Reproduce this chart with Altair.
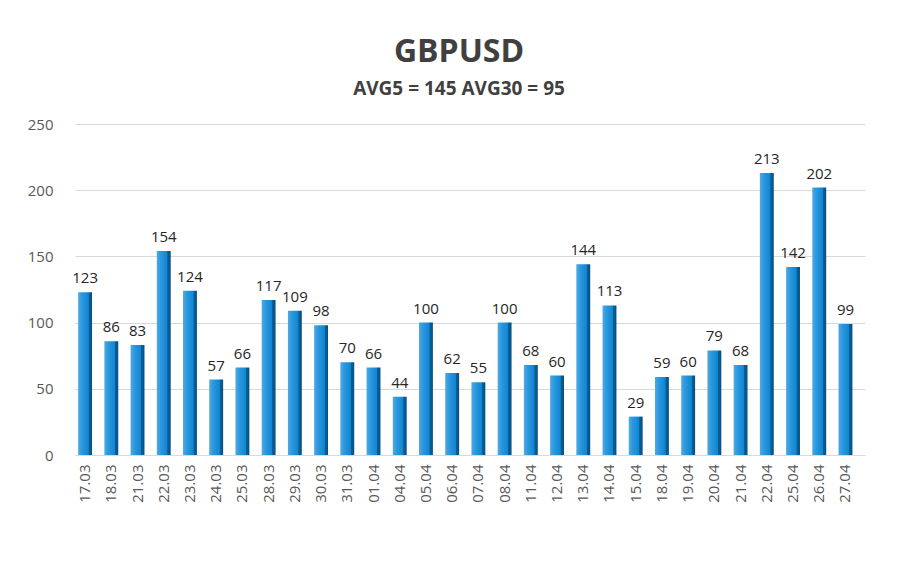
import altair as alt
import pandas as pd

dates = ["17.03", "18.03", "21.03", "22.03", "23.03", "24.03", "25.03", "28.03", "29.03", "30.03",
         "31.03", "01.04", "04.04", "05.04", "06.04", "07.04", "08.04", "11.04", "12.04", "13.04",
         "14.04", "15.04", "18.04", "19.04", "20.04", "21.04", "22.04", "25.04", "26.04", "27.04"]
values = [123, 86, 83, 154, 124, 57, 66, 117, 109, 98,
          70, 66, 44, 100, 62, 55, 100, 68, 60, 144,
          113, 29, 59, 60, 79, 68, 213, 142, 202, 99]
y_ticks = [0, 50, 100, 150, 200, 250]

df = pd.DataFrame({"date": dates, "value": values})

FONT = "Open Sans"

x = alt.X("date:N", sort=dates, title=None,
          scale=alt.Scale(paddingInner=0.47, paddingOuter=0.3, align=0.2),
          axis=alt.Axis(labelAngle=270, labelFontSize=15, labelColor="#595959", labelFont=FONT,
                        labelPadding=9, ticks=False, domain=False, grid=False,
                        labelBaseline="middle", labelAlign="right"))
y = alt.Y("value:Q", title=None,
          scale=alt.Scale(domain=[0, 250], nice=False),
          axis=alt.Axis(values=y_ticks, labelFontSize=15, labelColor="#595959", labelFont=FONT,
                        labelPadding=22, ticks=False, domain=False, gridColor="#d9d9d9",
                        gridWidth=1.2))

grad = alt.Gradient(
    gradient="linear", x1=0, x2=1, y1=0, y2=0,
    stops=[alt.GradientStop(color="#4eaae6", offset=0),
           alt.GradientStop(color="#2a97de", offset=0.3),
           alt.GradientStop(color="#0f86d2", offset=0.74),
           alt.GradientStop(color="#0a5f98", offset=0.78),
           alt.GradientStop(color="#084f80", offset=1)])

bars = alt.Chart(df).mark_bar(color=grad, width={"band": 1}).encode(x=x, y=y)

labels = alt.Chart(df).mark_text(dy=-14, fontSize=15, font=FONT, color="#262626").encode(
    x=alt.X("date:N", sort=dates), y="value:Q", text="value:Q")

chart = (bars + labels).properties(
    width=790, height=331,
    autosize=alt.AutoSizeParams(type="none"),
    padding={"left": 67, "top": 116, "right": 27, "bottom": 99},
    title=alt.TitleParams(
        text="GBPUSD", subtitle="AVG5 = 145 AVG30 = 95",
        fontSize=32, font=FONT, fontWeight="bold", color="#404040",
        subtitleFontSize=19, subtitleFont=FONT, subtitleFontWeight="bold", subtitleColor="#404040",
        subtitlePadding=11, offset=17, anchor="middle", dx=-11),
).configure(background="white", view=alt.ViewConfig(strokeWidth=0, stroke="transparent"))

chart.save("out.html", embed_options={"renderer": "svg", "actions": False})
